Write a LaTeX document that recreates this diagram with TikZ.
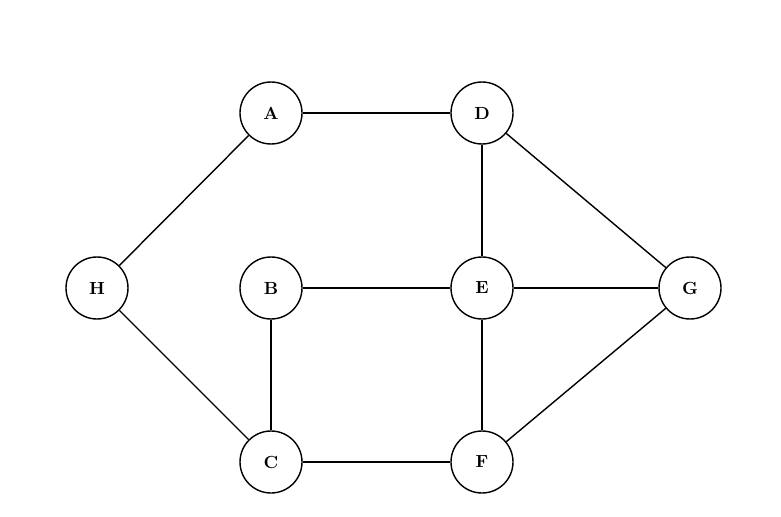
\documentclass[tikz,border=0pt]{standalone}
\usepackage{tikz}
\begin{document}
\begin{tikzpicture}[
        vertex/.style={circle, draw, thick, fill=white, minimum size=1.24cm, inner sep=0pt, font=\bfseries},
        edge/.style={thick}
    ]
        \useasboundingbox (0,0) rectangle (15.62,-10.34);

        % 顶点
        \node[vertex] (A) at (5.42,-2.26) {A};
        \node[vertex] (D) at (9.64,-2.26) {D};
        \node[vertex] (H) at (1.94,-5.76) {H};
        \node[vertex] (B) at (5.42,-5.76) {B};
        \node[vertex] (E) at (9.64,-5.76) {E};
        \node[vertex] (G) at (13.8,-5.76) {G};
        \node[vertex] (C) at (5.42,-9.24) {C};
        \node[vertex] (F) at (9.64,-9.24) {F};

        % 边
        \draw[edge] (A) -- (D);
        \draw[edge] (A) -- (H);
        \draw[edge] (H) -- (C);
        \draw[edge] (B) -- (E);
        \draw[edge] (B) -- (C);
        \draw[edge] (C) -- (F);
        \draw[edge] (D) -- (E);
        \draw[edge] (D) -- (G);
        \draw[edge] (E) -- (G);
        \draw[edge] (E) -- (F);
        \draw[edge] (F) -- (G);
    \end{tikzpicture}
\end{document}
